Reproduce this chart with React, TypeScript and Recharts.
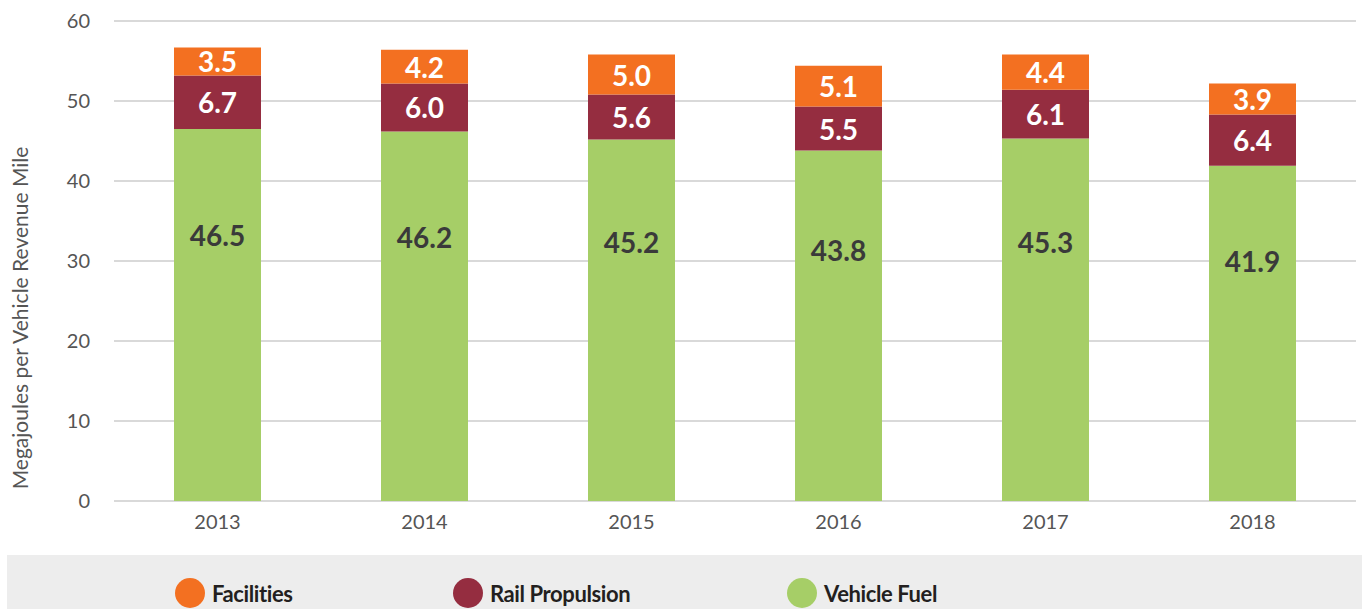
import { BarChart, Bar, XAxis, YAxis, CartesianGrid, LabelList } from 'recharts'

const YEARS = ['2013', '2014', '2015', '2016', '2017', '2018']
const VEHICLE_FUEL = [46.5, 46.2, 45.2, 43.8, 45.3, 41.9]
const RAIL_PROPULSION = [6.7, 6.0, 5.6, 5.5, 6.1, 6.4]
const FACILITIES = [3.5, 4.2, 5.0, 5.1, 4.4, 3.9]
const Y_TICKS = [0, 10, 20, 30, 40, 50, 60]

const SERIES = [
  { key: 'facilities', name: 'Facilities', color: '#F37021' },
  { key: 'rail', name: 'Rail Propulsion', color: '#952D40' },
  { key: 'fuel', name: 'Vehicle Fuel', color: '#A6CE67' },
]

const data = YEARS.map((year, i) => ({
  year,
  fuel: VEHICLE_FUEL[i],
  rail: RAIL_PROPULSION[i],
  facilities: FACILITIES[i],
}))

const FONT = 'Lato, "Open Sans", sans-serif'

// white bold label centred in a segment
function CenterLabel(props: any) {
  const { x, y, width, height, value } = props
  return (
    <text
      x={x + width / 2}
      y={y + height / 2}
      textAnchor="middle"
      dominantBaseline="central"
      fill="#fff"
      fontSize={28}
      fontWeight={700}
      fontFamily={FONT}
    >
      {Number(value).toFixed(1)}
    </text>
  )
}

// fuel label sits in the upper part of the green bar
function FuelLabel(props: any) {
  const { x, y, width, height, value } = props
  return (
    <text
      x={x + width / 2}
      y={y + height * 0.285}
      textAnchor="middle"
      dominantBaseline="central"
      fill="#3a3a3a"
      fontSize={28}
      fontWeight={700}
      fontFamily={FONT}
    >
      {Number(value).toFixed(1)}
    </text>
  )
}

export default function App() {
  return (
    <div style={{ position: 'absolute', left: 0, top: 0, width: 1362, height: 609, background: '#fff', fontFamily: FONT }}>
      <BarChart
        width={1362}
        height={555}
        data={data}
        margin={{ top: 21, right: 6, left: 0, bottom: 24 }}
        barCategoryGap={60}
      >
        <CartesianGrid vertical={false} stroke="#d9d9d9" strokeWidth={2} />
        <XAxis
          dataKey="year"
          axisLine={false}
          tickLine={false}
          height={30}
          tickMargin={8}
          tick={{ fill: '#555', fontSize: 20, fontFamily: FONT }}
        />
        <YAxis
          domain={[0, 60]}
          ticks={Y_TICKS}
          width={114}
          axisLine={false}
          tickLine={false}
          tickMargin={18}
          tick={{ fill: '#555', fontSize: 20, fontFamily: FONT }}
          label={{
            content: () => (
              <text
                transform="translate(28,318) rotate(-90)"
                textAnchor="middle"
                fill="#555"
                fontSize={21}
                fontFamily={FONT}
              >
                Megajoules per Vehicle Revenue Mile
              </text>
            ),
          }}
        />
        <Bar dataKey="fuel" stackId="a" fill="#A6CE67" isAnimationActive={false}>
          <LabelList dataKey="fuel" content={FuelLabel} />
        </Bar>
        <Bar dataKey="rail" stackId="a" fill="#952D40" isAnimationActive={false}>
          <LabelList dataKey="rail" content={CenterLabel} />
        </Bar>
        <Bar dataKey="facilities" stackId="a" fill="#F37021" isAnimationActive={false}>
          <LabelList dataKey="facilities" content={CenterLabel} />
        </Bar>
      </BarChart>
      <div
        style={{
          position: 'absolute',
          left: 7,
          top: 555,
          width: 1355,
          height: 54,
          background: '#ededed',
        }}
      >
        {SERIES.map((s, i) => (
          <div
            key={s.key}
            style={{
              position: 'absolute',
              left: [168, 446, 780][i],
              top: 23,
              height: 30,
              display: 'flex',
              alignItems: 'center',
              gap: 7,
            }}
          >
            <span style={{ width: 30, height: 30, borderRadius: '50%', background: s.color, display: 'inline-block' }} />
            <span style={{ fontSize: 22, fontWeight: 700, color: '#231f20', letterSpacing: -0.4 }}>{s.name}</span>
          </div>
        ))}
      </div>
    </div>
  )
}
